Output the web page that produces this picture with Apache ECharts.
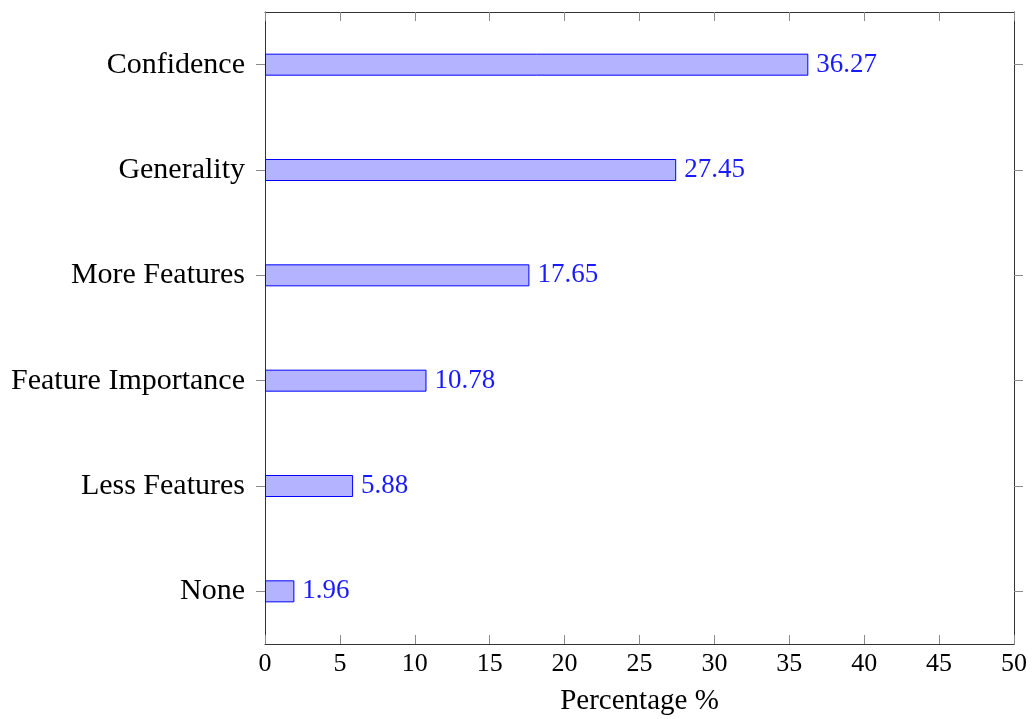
<!DOCTYPE html>
<html>
<head>
<meta charset="utf-8">
<script src="https://cdn.jsdelivr.net/npm/echarts@6/dist/echarts.min.js"></script>
<style>
  html, body { margin: 0; padding: 0; background: #fff; }
  #chart { width: 1034px; height: 719px; }
</style>
</head>
<body>
<div id="chart"></div>
<script>
// Reasons listed top to bottom
const categories = ['Confidence', 'Generality', 'More Features', 'Feature Importance', 'Less Features', 'None'];
const percentages = [36.27, 27.45, 17.65, 10.78, 5.88, 1.96];
const xTicks = [0, 5, 10, 15, 20, 25, 30, 35, 40, 45, 50];

const serif = '"Liberation Serif", "DejaVu Serif", serif';
const frameColor = '#333';
const tickColor = '#8a8a8a';

const chart = echarts.init(document.getElementById('chart'), null, { renderer: 'canvas' });

chart.setOption({
  animation: false,
  backgroundColor: '#fff',
  grid: { left: 265, right: 20, top: 12, bottom: 75, containLabel: false, outerBoundsMode: 'none' },
  xAxis: [
    {
      type: 'value',
      position: 'bottom',
      min: xTicks[0],
      max: xTicks[xTicks.length - 1],
      interval: 5,
      name: 'Percentage %',
      nameLocation: 'middle',
      nameGap: 43,
      nameTextStyle: { fontFamily: serif, fontSize: 29, color: '#000' },
      axisLine: { show: true, onZero: false, lineStyle: { color: frameColor, width: 1 } },
      axisTick: { show: true, inside: true, length: 9, lineStyle: { color: tickColor } },
      axisLabel: { fontFamily: serif, fontSize: 26, color: '#000', margin: 7 },
      splitLine: { show: false }
    },
    {
      type: 'value',
      position: 'top',
      min: xTicks[0],
      max: xTicks[xTicks.length - 1],
      interval: 5,
      axisLine: { show: true, onZero: false, lineStyle: { color: frameColor, width: 1 } },
      axisTick: { show: true, inside: true, length: 9, lineStyle: { color: tickColor } },
      axisLabel: { show: false },
      splitLine: { show: false }
    }
  ],
  yAxis: [
    {
      type: 'category',
      position: 'left',
      inverse: true,
      data: categories,
      axisLine: { show: true, onZero: false, lineStyle: { color: frameColor, width: 1 } },
      axisTick: { show: true, alignWithLabel: true, length: 9, lineStyle: { color: tickColor } },
      axisLabel: { fontFamily: serif, fontSize: 30, color: '#000', margin: 20 },
      splitLine: { show: false }
    },
    {
      type: 'category',
      position: 'right',
      inverse: true,
      data: categories,
      axisLine: { show: true, onZero: false, lineStyle: { color: frameColor, width: 1 } },
      axisTick: { show: true, alignWithLabel: true, length: 9, lineStyle: { color: tickColor } },
      axisLabel: { show: false },
      splitLine: { show: false }
    }
  ],
  series: [
    {
      type: 'bar',
      xAxisIndex: 0,
      yAxisIndex: 0,
      data: percentages,
      barWidth: 22,
      itemStyle: { color: '#b3b3ff', borderColor: '#0000ff', borderWidth: 1 },
      label: {
        show: true,
        position: 'right',
        distance: 8,
        fontFamily: serif,
        fontSize: 27,
        color: '#1a1aff',
        formatter: p => p.value.toFixed(2)
      }
    }
  ]
});
</script>
</body>
</html>
